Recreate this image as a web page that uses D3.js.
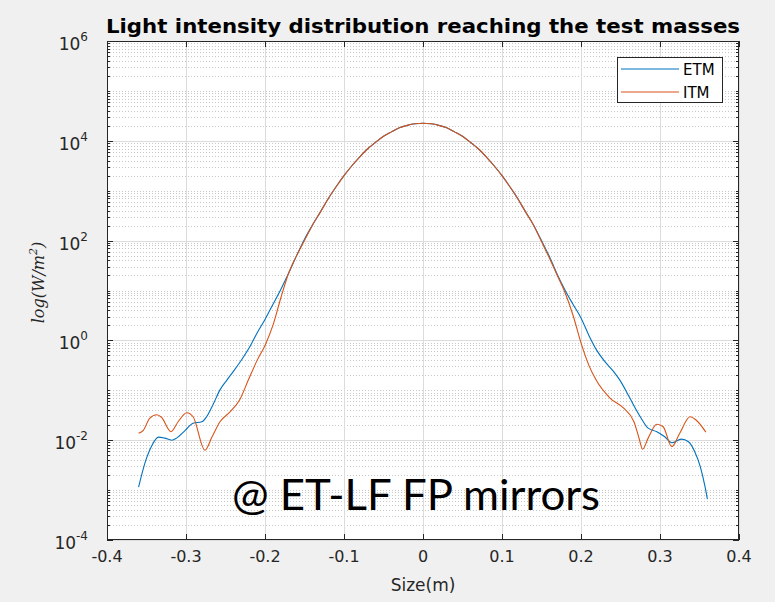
<!DOCTYPE html>
<html>
<head>
<meta charset="utf-8">
<script src="https://cdn.jsdelivr.net/npm/d3@7"></script>
<style>
  html, body { margin: 0; padding: 0; background: #f0f0f0; }
  svg { display: block; }
</style>
</head>
<body>
<svg id="chart" width="775" height="602"></svg>
<script>
// Transverse position across the mirror (m) and intensity (W/m^2), end test mass
const etmX = [-0.360, -0.352, -0.343, -0.335, -0.327, -0.318, -0.312, -0.301, -0.291, -0.280,
  -0.274, -0.265, -0.257, -0.248, -0.240, -0.230, -0.220, -0.210, -0.200, -0.190,
  -0.180, -0.170, -0.160, -0.150, -0.140, -0.130, -0.120, -0.110, -0.100, -0.090,
  -0.080, -0.070, -0.060, -0.050, -0.040, -0.030, -0.020, -0.010, 0.000,
  0.010, 0.020, 0.030, 0.040, 0.050, 0.060, 0.070, 0.080, 0.090, 0.100,
  0.110, 0.120, 0.130, 0.140, 0.150, 0.160, 0.170, 0.180, 0.190, 0.200,
  0.210, 0.220, 0.230, 0.240, 0.249, 0.262, 0.275, 0.285, 0.296, 0.306,
  0.315, 0.327, 0.336, 0.344, 0.351, 0.357, 0.360];
const etmI = [1.15e-3, 3.47e-3, 7.9e-3, 1.15e-2, 1.10e-2, 1.0e-2, 1.10e-2, 1.58e-2, 2.19e-2, 2.34e-2,
  2.95e-2, 5.5e-2, 1.02e-1, 1.62e-1, 2.4e-1, 4.0e-1, 7.1e-1, 1.41, 2.63, 5.25,
  10.5, 22.4, 50, 107, 204, 372, 692, 1200, 2000, 3160,
  4790, 6920, 9330, 12300, 15100, 18200, 20400, 21900, 22400,
  21900, 20400, 18200, 15100, 12300, 9330, 6920, 4790, 3160, 2000,
  1200, 692, 372, 204, 100, 47.9, 20.9, 10, 5.25, 2.82,
  1.26, 0.631, 0.380, 0.251, 0.162, 0.0692, 0.0295, 0.0174, 0.0148, 0.0117,
  0.00891, 0.0105, 0.00933, 0.00589, 0.00295, 0.00117, 0.00066];

// Same quantity at the input test mass
const itmX = [-0.360, -0.354, -0.346, -0.337, -0.331, -0.319, -0.310, -0.299, -0.291, -0.276,
  -0.267, -0.257, -0.244, -0.232, -0.221, -0.210, -0.200, -0.190, -0.180, -0.170,
  -0.160, -0.150, -0.140, -0.130, -0.120, -0.110, -0.100, -0.090,
  -0.080, -0.070, -0.060, -0.050, -0.040, -0.030, -0.020, -0.010, 0.000,
  0.010, 0.020, 0.030, 0.040, 0.050, 0.060, 0.070, 0.080, 0.090, 0.100,
  0.110, 0.120, 0.130, 0.140, 0.150, 0.160, 0.170, 0.180, 0.190, 0.200,
  0.210, 0.219, 0.237, 0.254, 0.267, 0.273, 0.278, 0.285, 0.296, 0.304,
  0.315, 0.325, 0.338, 0.346, 0.358];
const itmI = [0.0138, 0.0158, 0.0275, 0.0324, 0.0288, 0.0148, 0.0234, 0.0355, 0.0295, 0.0063,
  0.0117, 0.0234, 0.0372, 0.0646, 0.162, 0.398, 0.794, 2.0, 7.08, 22.4,
  50, 100, 204, 372, 692, 1200, 2000, 3160,
  4790, 6920, 9330, 12300, 15100, 18200, 20400, 21900, 22400,
  21900, 20400, 18200, 15100, 12300, 9330, 6920, 4790, 3160, 2000,
  1200, 692, 372, 204, 95.5, 44.7, 20, 8.91, 3.16, 0.891,
  0.316, 0.162, 0.0692, 0.0437, 0.0234, 0.0117, 0.0066, 0.011, 0.0209, 0.0186,
  0.0074, 0.0138, 0.0295, 0.0251, 0.0145];

const xTicks = [-0.4, -0.3, -0.2, -0.1, 0, 0.1, 0.2, 0.3, 0.4];
const xTickLabels = ["-0.4", "-0.3", "-0.2", "-0.1", "0", "0.1", "0.2", "0.3", "0.4"];
const yExponents = [-4, -2, 0, 2, 4, 6];

const seriesNames = ["ETM", "ITM"];
const seriesColors = ["#0072BD", "#D95319"];

(function draw() {
  const svg = d3.select("#chart");
  const pL = 107, pR = 739, pT = 41, pB = 540;

  const x = d3.scaleLinear().domain([-0.4, 0.4]).range([pL, pR]);
  const y = d3.scaleLog().domain([1e-4, 1e6]).range([pB, pT]);

  // figure background and axes area
  svg.append("rect").attr("width", 775).attr("height", 602).attr("fill", "#f0f0f0");
  svg.append("rect").attr("x", pL).attr("y", pT)
    .attr("width", pR - pL).attr("height", pB - pT).attr("fill", "#ffffff");

  // minor grid: every 1..9 x 10^k except the labelled decades
  const minorVals = [];
  for (let e = -4; e < 6; e++) {
    for (let m = 1; m <= 9; m++) {
      if (m === 1 && yExponents.includes(e)) continue;
      minorVals.push(m * Math.pow(10, e));
    }
  }
  const grid = svg.append("g");
  grid.selectAll("line.ymin").data(minorVals).join("line")
    .attr("x1", pL).attr("x2", pR)
    .attr("y1", d => Math.round(y(d)) + 0.5).attr("y2", d => Math.round(y(d)) + 0.5)
    .attr("stroke", "#c8c8c8").attr("stroke-width", 1).attr("stroke-dasharray", "1,2");

  // major grid
  grid.selectAll("line.ymaj").data(yExponents).join("line")
    .attr("x1", pL).attr("x2", pR)
    .attr("y1", d => Math.round(y(Math.pow(10, d))) + 0.5)
    .attr("y2", d => Math.round(y(Math.pow(10, d))) + 0.5)
    .attr("stroke", "#dcdcdc").attr("stroke-width", 1);
  grid.selectAll("line.xmaj").data(xTicks).join("line")
    .attr("y1", pT).attr("y2", pB)
    .attr("x1", d => Math.round(x(d)) + 0.5).attr("x2", d => Math.round(x(d)) + 0.5)
    .attr("stroke", "#dcdcdc").attr("stroke-width", 1);

  // data lines
  const line = d3.line()
    .x(d => x(d[0]))
    .y(d => y(d[1]))
    .curve(d3.curveMonotoneX);

  const series = [d3.zip(etmX, etmI), d3.zip(itmX, itmI)];
  svg.append("g").selectAll("path").data(series).join("path")
    .attr("d", line)
    .attr("fill", "none")
    .attr("stroke", (d, i) => seriesColors[i])
    .attr("stroke-width", 1.1);

  // axes box and tick marks (inward, on all four sides)
  const axisColor = "#262626";
  const ax = svg.append("g").attr("stroke", axisColor).attr("stroke-width", 1);
  ax.append("rect").attr("x", pL + 0.5).attr("y", pT + 0.5)
    .attr("width", pR - pL - 1).attr("height", pB - pT - 1).attr("fill", "none");
  const majLen = 6, minLen = 3;
  xTicks.forEach(t => {
    const px = Math.round(x(t)) + 0.5;
    ax.append("line").attr("x1", px).attr("x2", px).attr("y1", pB).attr("y2", pB - majLen);
    ax.append("line").attr("x1", px).attr("x2", px).attr("y1", pT).attr("y2", pT + majLen);
  });
  yExponents.forEach(e => {
    const py = Math.round(y(Math.pow(10, e))) + 0.5;
    ax.append("line").attr("x1", pL).attr("x2", pL + majLen).attr("y1", py).attr("y2", py);
    ax.append("line").attr("x1", pR).attr("x2", pR - majLen).attr("y1", py).attr("y2", py);
  });
  minorVals.forEach(v => {
    const py = Math.round(y(v)) + 0.5;
    ax.append("line").attr("x1", pL).attr("x2", pL + minLen).attr("y1", py).attr("y2", py);
    ax.append("line").attr("x1", pR).attr("x2", pR - minLen).attr("y1", py).attr("y2", py);
  });

  // tick labels
  const labelFont = "DejaVu Sans, sans-serif";
  svg.append("g").selectAll("text").data(xTicks).join("text")
    .attr("x", d => x(d)).attr("y", 562)
    .attr("text-anchor", "middle")
    .attr("font-family", labelFont).attr("font-size", 16).attr("fill", "#262626")
    .text((d, i) => xTickLabels[i]);

  const yl = svg.append("g").selectAll("text").data(yExponents).join("text")
    .attr("x", 88).attr("y", d => y(Math.pow(10, d)) + 9)
    .attr("text-anchor", "end")
    .attr("font-family", labelFont).attr("font-size", 17).attr("fill", "#262626");
  yl.append("tspan").text("10");
  yl.append("tspan").attr("dy", -9).attr("font-size", 12).text(d => String(d));

  // axis titles
  svg.append("text").attr("x", (pL + pR) / 2).attr("y", 591)
    .attr("text-anchor", "middle").attr("font-family", labelFont).attr("font-size", 17)
    .attr("fill", "#262626").text("Size(m)");

  const yt = svg.append("text")
    .attr("transform", `translate(44,${(pT + pB) / 2 - 8}) rotate(-90)`)
    .attr("text-anchor", "middle")
    .attr("font-family", "DejaVu Serif, Liberation Serif, serif")
    .attr("font-style", "italic").attr("font-size", 16).attr("fill", "#262626");
  yt.append("tspan").text("log(W/m");
  yt.append("tspan").attr("dy", -7).attr("font-size", 11).text("2");
  yt.append("tspan").attr("dy", 7).text(")");

  // title
  svg.append("text").attr("x", (pL + pR) / 2).attr("y", 33)
    .attr("text-anchor", "middle")
    .attr("font-family", labelFont).attr("font-weight", "bold").attr("font-size", 19)
    .attr("textLength", 634).attr("lengthAdjust", "spacingAndGlyphs")
    .attr("fill", "#000").text("Light intensity distribution reaching the test masses");

  // legend
  const lg = svg.append("g");
  lg.append("rect").attr("x", 617.5).attr("y", 57.5).attr("width", 105).attr("height", 45)
    .attr("fill", "#ffffff").attr("stroke", axisColor).attr("stroke-width", 1);
  seriesNames.forEach((name, i) => {
    const ly = 69 + i * 23;
    lg.append("line").attr("x1", 621).attr("x2", 679).attr("y1", ly).attr("y2", ly)
      .attr("stroke", seriesColors[i]).attr("stroke-width", 1.1);
    lg.append("text").attr("x", 683).attr("y", ly + 6)
      .attr("font-family", labelFont).attr("font-size", 15).attr("fill", "#000").text(name);
  });

  // annotation
  svg.append("text").attr("x", 232).attr("y", 510)
    .attr("font-family", "Lato, Open Sans, sans-serif").attr("font-size", 42)
    .attr("textLength", 368).attr("lengthAdjust", "spacingAndGlyphs")
    .attr("fill", "#000").text("@ ET-LF FP mirrors");
})();
</script>
</body>
</html>
